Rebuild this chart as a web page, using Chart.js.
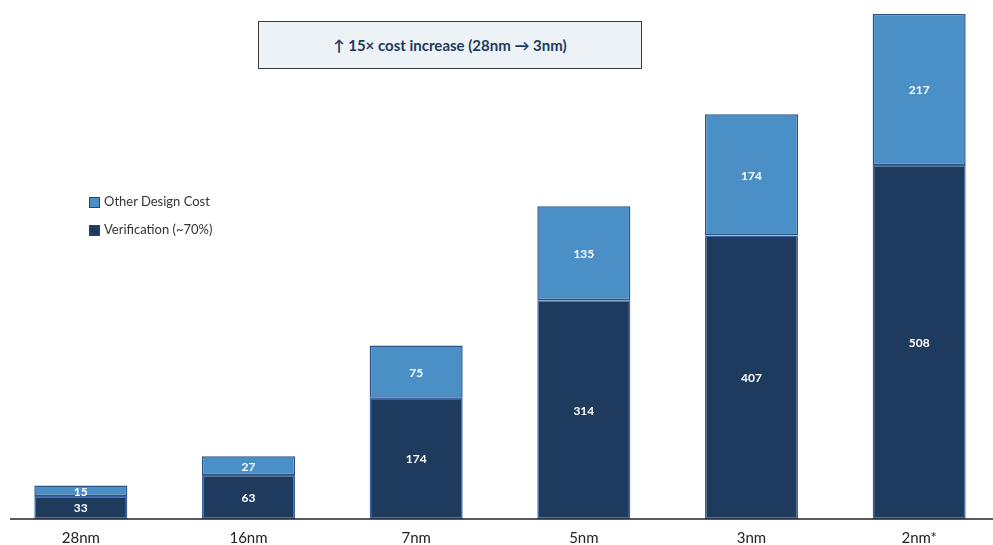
<!DOCTYPE html>
<html>
<head>
<meta charset="utf-8">
<script src="https://cdn.jsdelivr.net/npm/chart.js@4.4.1/dist/chart.umd.min.js"></script>
<style>
  html, body { margin: 0; padding: 0; background: #fff; overflow: hidden; }
  body { width: 993px; height: 545px; position: relative; font-family: Lato, "Open Sans", sans-serif; }
  #wrap { position: absolute; left: -3px; top: 0; width: 1006px; height: 549px; }
  .callout {
    position: absolute; left: 258px; top: 21px; width: 382px; height: 46px;
    background: #edf2f7; border: 1.5px solid #3a3a3a;
    display: flex; align-items: center; justify-content: center;
    font-weight: bold; font-size: 15px; color: #1e3a5c;
  }
  .legend { position: absolute; left: 89px; top: 193px; font-size: 13px; color: #333; }
  .legend div { height: 28px; display: flex; align-items: flex-start; }
  .legend span.box { width: 9px; height: 9px; margin: 4px 4px 0 0; border: 1px solid #2a4466; }
</style>
</head>
<body>
<div id="wrap"><canvas id="myChart" width="1006" height="549"></canvas></div>
<div class="callout">↑ 15× cost increase (28nm → 3nm)</div>
<div class="legend">
  <div><span class="box" style="background:#4a8fc6"></span>Other Design Cost</div>
  <div><span class="box" style="background:#1e3a5c"></span>Verification (~70%)</div>
</div>
<script>
// process nodes and design cost split ($M)
const nodes = ['28nm', '16nm', '7nm', '5nm', '3nm', '2nm*'];
const verification = [33, 63, 174, 314, 407, 508];
const otherDesign = [15, 27, 75, 135, 174, 217];

// white value labels in the middle of each segment
const segmentLabels = {
  id: 'segmentLabels',
  afterDatasetsDraw(chart) {
    const ctx = chart.ctx;
    ctx.save();
    ctx.fillStyle = '#fff';
    ctx.font = 'bold 12px Lato, sans-serif';
    ctx.textAlign = 'center';
    ctx.textBaseline = 'middle';
    chart.data.datasets.forEach((ds, i) => {
      chart.getDatasetMeta(i).data.forEach((bar, j) => {
        const mid = (bar.y + bar.base) / 2;
        ctx.fillText(ds.data[j], bar.x, mid + 1);
      });
    });
    ctx.restore();
  }
};

// baseline under the bars
const baseline = {
  id: 'baseline',
  afterDraw(chart) {
    const ctx = chart.ctx;
    const y = chart.chartArea.bottom;
    ctx.save();
    ctx.strokeStyle = '#222';
    ctx.lineWidth = 1.5;
    ctx.beginPath();
    ctx.moveTo(13, y);
    ctx.lineTo(chart.width, y);
    ctx.stroke();
    ctx.restore();
  }
};

const ctx = document.getElementById('myChart').getContext('2d');
new Chart(ctx, {
  type: 'bar',
  data: {
    labels: nodes,
    datasets: [
      {
        label: 'Verification (~70%)',
        data: verification,
        backgroundColor: '#1e3a5c',
        borderColor: '#3a64a8',
        borderWidth: 1.5,
        borderSkipped: false
      },
      {
        label: 'Other Design Cost',
        data: otherDesign,
        backgroundColor: '#4a8fc6',
        borderColor: '#2c5585',
        borderWidth: 1.5,
        borderSkipped: false
      }
    ]
  },
  options: {
    responsive: false,
    animation: false,
    layout: { padding: 0 },
    plugins: {
      legend: { display: false },
      tooltip: { enabled: false }
    },
    datasets: {
      bar: { barPercentage: 0.555, categoryPercentage: 1 }
    },
    scales: {
      x: {
        stacked: true,
        grid: { display: false },
        border: { display: false },
        ticks: { color: '#222', font: { size: 15, family: 'Lato, sans-serif' }, padding: 2 }
      },
      y: {
        stacked: true,
        display: false,
        min: 0,
        max: 745
      }
    }
  },
  plugins: [segmentLabels, baseline]
});
</script>
</body>
</html>
